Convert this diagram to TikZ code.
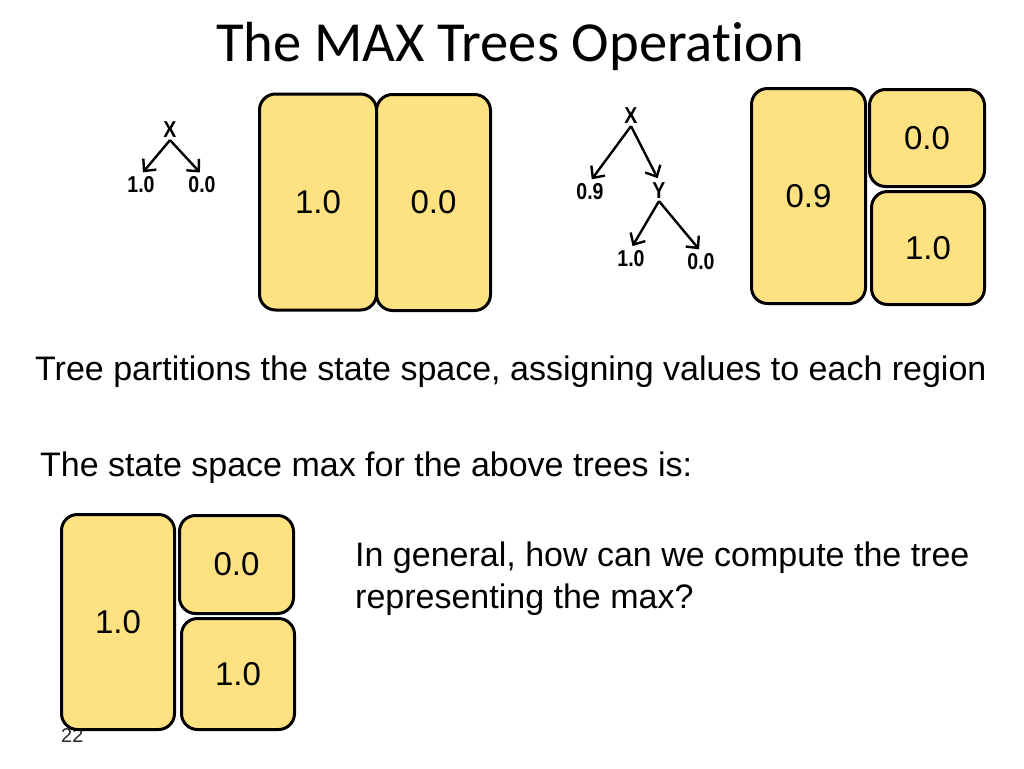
\documentclass[tikz,border=0pt]{standalone}
\usepackage{fontspec}
\setmainfont{Liberation Sans}
\newfontfamily\titlefont[Ligatures=NoCommon]{Carlito}
\newfontfamily\treefont[FakeStretch=0.85]{Liberation Sans Bold}
\usetikzlibrary{arrows.meta,positioning}
\definecolor{regionfill}{RGB}{254,225,128}
\definecolor{pagegray}{RGB}{40,40,40}

\begin{document}
\begin{tikzpicture}[x=1pt,y=-1pt,
    region/.style={draw=black,line width=3pt,fill=regionfill,rounded corners=16pt,
                   inner sep=0pt,font=\fontsize{33}{38}\selectfont},
    treelbl/.style={font=\treefont\fontsize{23}{26}\selectfont,inner sep=2pt},
    treearrow/.style={-{Straight Barb[length=9pt,width=17pt,line width=2.4pt]},line width=2.4pt,
                      shorten >=3pt},
    bodytext/.style={font=\fontsize{34}{42}\selectfont,inner sep=0pt}]
  \useasboundingbox (0,0) rectangle (1024,768);
  % title
  \node[font=\titlefont\fontsize{56.6}{64}\selectfont,anchor=base,inner sep=0pt] (title) at (510,61) {The MAX Trees Operation};
  % slide number (lies under the regions)
  \node[font=\fontsize{20}{24}\selectfont,text=pagegray,anchor=base west,inner sep=0pt] (page) at (61,742) {22};
  % regions of the state space
  \foreach \name/\cx/\cy/\w/\h/\val in {A/318/202/117/216/1.0, B/433.5/202.5/114/216/0.0,
      C/808.5/196/114/215/0.9, D/927/138/115/97/0.0, E/928/248/113/113/1.0,
      F/118/622/113/215/1.0, G/236.5/564.5/114/98/0.0, H/238/674/113/111/1.0}{%
    \node[region,minimum width=\w pt,minimum height=\h pt] (\name) at (\cx,\cy) {\val};
  }
  % first tree
  \node[treelbl] (X-1) at (170,130) {X};
  \node[treelbl] (L-1) at (141,185) {1.0};
  \node[treelbl] (R-1) at (202,185) {0.0};
  \draw[treearrow] (X-1.south) -- (L-1.north);
  \draw[treearrow] (X-1.south) -- (R-1.north);
  % second tree
  \node[treelbl] (X-2) at (631,116) {X};
  \node[treelbl] (L-2) at (590,192) {0.9};
  \node[treelbl] (Y-2) at (659,191) {Y};
  \node[treelbl] (L-3) at (631,259) {1.0};
  \node[treelbl] (R-3) at (701,262) {0.0};
  \draw[treearrow] (X-2.south) -- (L-2.north);
  \draw[treearrow] (X-2.south) -- (Y-2.north);
  \draw[treearrow] (Y-2.south) -- (L-3.north);
  \draw[treearrow] (Y-2.south) -- (R-3.north);
  % text
  \node[bodytext,anchor=base west] (partition) at (35,380) {Tree partitions the state space, assigning values to each region};
  \node[bodytext,anchor=base west] (maxtext) at (40,476) {The state space max for the above trees is:};
  \node[bodytext,anchor=base west] (question-1) at (355,566) {In general, how can we compute the tree};
  \node[bodytext,anchor=base west] (question-2) at (355,608) {representing the max?};
\end{tikzpicture}
\end{document}
